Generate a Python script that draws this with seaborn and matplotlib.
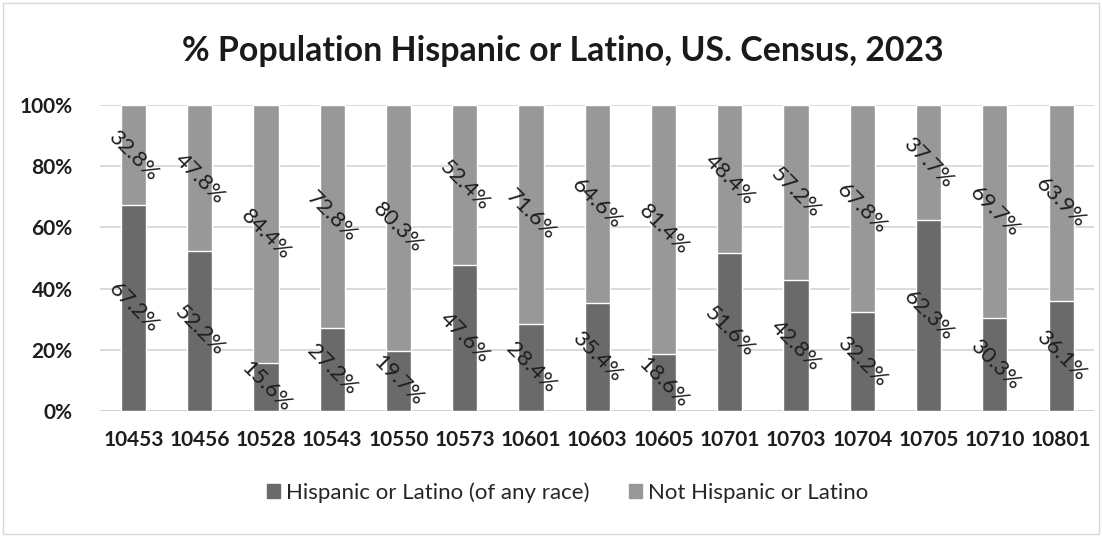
import matplotlib
matplotlib.use("Agg")
import matplotlib.pyplot as plt
import seaborn as sns
import pandas as pd
import numpy as np
from matplotlib.patches import Patch

zips = ["10453", "10456", "10528", "10543", "10550", "10573", "10601", "10603",
        "10605", "10701", "10703", "10704", "10705", "10710", "10801"]
hispanic = [67.2, 52.2, 15.6, 27.2, 19.7, 47.6, 28.4, 35.4, 18.6, 51.6, 42.8, 32.2, 62.3, 30.3, 36.1]
not_hispanic = [32.8, 47.8, 84.4, 72.8, 80.3, 52.4, 71.6, 64.6, 81.4, 48.4, 57.2, 67.8, 37.7, 69.7, 63.9]
yticks = [0, 20, 40, 60, 80, 100]
title = "% Population Hispanic or Latino, US. Census, 2023"
series_names = ["Hispanic or Latino (of any race)", "Not Hispanic or Latino"]

sns.set_theme(style="white")
plt.rcParams['font.family'] = ['Lato', 'DejaVu Sans']

df = pd.DataFrame({"zip": zips, "hisp": hispanic, "nothisp": not_hispanic})
df["total"] = df["hisp"] + df["nothisp"]

dark = "#6a6a6a"
light = "#989898"

fig = plt.figure(figsize=(11.02, 5.37), dpi=100)
ax = fig.add_axes([0.091, 0.235, 0.902, 0.569])

sns.barplot(data=df, x="zip", y="total", color=light, saturation=1, width=0.38, ax=ax, zorder=3)
sns.barplot(data=df, x="zip", y="hisp", color=dark, saturation=1, width=0.38, ax=ax, zorder=4)

ax.set_ylim(0, 100)
ax.set_xlim(-0.5, len(zips) - 0.5)
ax.set_yticks(yticks)
ax.set_yticklabels([f"{v}%" for v in yticks], fontsize=15, fontweight="bold", color="#1e1e1e")
ax.tick_params(axis="x", labelsize=15, pad=14, colors="#1e1e1e", length=0)
ax.tick_params(axis="y", pad=20, length=0)
for lab in ax.get_xticklabels():
    lab.set_fontweight("bold")
ax.set_xlabel("")
ax.set_ylabel("")
for s in ax.spines.values():
    s.set_visible(False)
for v in yticks:
    ax.axhline(v, color="#d4d4d4" if v else "#c8c8c8", lw=1.2, zorder=1)

for i, (h, n) in enumerate(zip(hispanic, not_hispanic)):
    ax.text(i, h / 2, f"{h}%", rotation=-45, ha="center", va="center",
            fontsize=16, color="#1e1e1e", zorder=6, rotation_mode="anchor")
    ax.text(i, h + n / 2, f"{n}%", rotation=-45, ha="center", va="center",
            fontsize=16, color="#1e1e1e", zorder=6, rotation_mode="anchor")

fig.text(0.511, 0.905, title, ha="center", va="center", fontsize=24.4,
         fontweight="bold", color="#1a1a1a")

handles = [Patch(color=dark), Patch(color=light)]
fig.legend(handles, series_names, loc="center", bbox_to_anchor=(0.515, 0.082), ncol=2,
           frameon=False, fontsize=16, handlelength=0.6, handleheight=0.6,
           handletextpad=0.25, columnspacing=1.8)

fig.patches.append(plt.Rectangle((0.003, 0.005), 0.994, 0.99, transform=fig.transFigure,
                                 fill=False, edgecolor="#d8d8d8", lw=1))

fig.savefig("out.png", dpi=100)
